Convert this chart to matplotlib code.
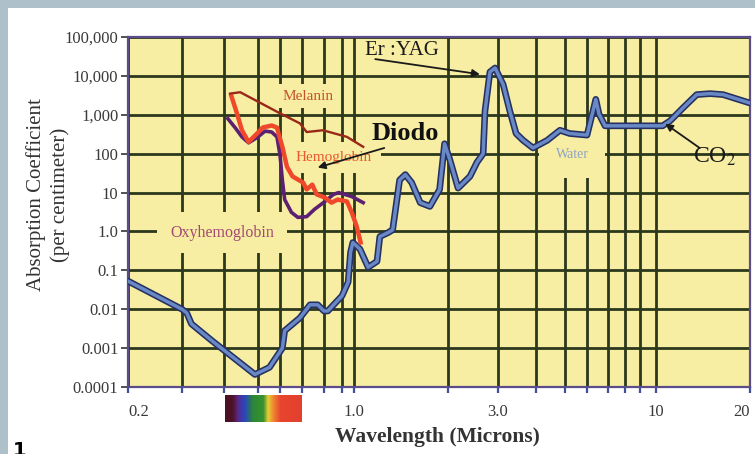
import numpy as np
import matplotlib
matplotlib.use("Agg")
import matplotlib.pyplot as plt
from matplotlib.colors import LinearSegmentedColormap
from matplotlib.patches import Rectangle
from matplotlib.ticker import NullLocator

plt.rcParams['font.family'] = ['Liberation Serif', 'DejaVu Serif']
plt.rcParams['mathtext.fontset'] = 'stix'

# absorption coefficients (per cm) against wavelength (microns)
water_um = [0.2, 0.3, 0.31, 0.32, 0.37, 0.49, 0.55, 0.61, 0.62, 0.69, 0.735, 0.77,
            0.8, 0.82, 0.9, 0.95, 0.97, 0.99, 1.045, 1.11, 1.185, 1.21, 1.285, 1.33,
            1.40, 1.46, 1.53, 1.63, 1.75, 1.88, 1.95, 2.03, 2.17, 2.39, 2.53, 2.66,
            2.7, 2.81, 2.93, 3.12, 3.28, 3.44, 3.63, 3.91, 4.36, 4.81, 5.2, 6.0,
            6.27, 6.4, 6.55, 6.85, 10.5, 11.1, 12.2, 13.5, 14.9, 16.4, 20.0]
water_abs = [0.053, 0.01, 0.008, 0.0042, 0.0015, 0.00021, 0.00032, 0.001, 0.0028,
             0.006, 0.013, 0.013, 0.009, 0.009, 0.022, 0.05, 0.29, 0.52, 0.35, 0.12,
             0.17, 0.74, 0.93, 1.1, 21, 29, 18, 5.5, 4.4, 12, 180, 70, 13, 26, 60,
             100, 1250, 12600, 16000, 6000, 1260, 330, 220, 140, 220, 400, 330, 300,
             1250, 2500, 1050, 520, 520, 700, 1500, 3300, 3500, 3300, 2000]

hb_um = [0.42, 0.436, 0.45, 0.47, 0.497, 0.52, 0.56, 0.585, 0.61, 0.63, 0.655,
         0.705, 0.72, 0.745, 0.765, 0.805, 0.84, 0.875, 0.94, 0.98, 1.02, 1.05]
hb_abs = [3000, 1050, 400, 200, 330, 470, 530, 470, 150, 46, 26, 18, 12, 16, 9,
          7.4, 5.5, 6.6, 5.9, 3.1, 1.35, 0.52]

hbo_um = [0.41, 0.43, 0.45, 0.47, 0.5, 0.53, 0.56, 0.585, 0.6, 0.61, 0.62, 0.65,
          0.68, 0.72, 0.755, 0.805, 0.85, 0.88, 0.98, 1.07]
hbo_abs = [800, 470, 270, 190, 270, 380, 360, 270, 93, 21, 6.6, 3.1, 2.3, 2.4, 3.7,
           5.9, 8.9, 10, 7.9, 5.5]

mel_um = [0.416, 0.445, 0.585, 0.69, 0.72, 0.795, 0.94, 1.07]
mel_abs = [3500, 3800, 1200, 600, 360, 400, 270, 150]

# axis ticks
grid_um = [0.2, 0.3, 0.4, 0.5, 0.6, 0.7, 0.8, 0.9, 1.0, 2.0, 3.0, 4.0, 5.0, 6.0,
           7.0, 8.0, 9.0, 10.0, 20.0]
x_labels = {0.2: '0.2', 1.0: '1.0', 3.0: '3.0', 10.0: '10', 20.0: '20'}
y_ticks = [1e-4, 1e-3, 1e-2, 1e-1, 1, 10, 100, 1e3, 1e4, 1e5]
y_labels = ['0.0001', '0.001', '0.01', '0.1', '1.0', '10', '100', '1,000',
            '10,000', '100,000']

# the printed wavelength axis is hand drawn: roughly logarithmic, but
# stretched between 0.3 and 1.0 micron. piecewise log mapping of the grid
grid_pos = [0, 54, 96, 130, 152, 174, 196, 214, 226, 320, 370, 408, 437, 459,
            480, 497, 512, 528, 622]
log_grid = np.log10(grid_um)


def to_axis(x):
    with np.errstate(divide='ignore', invalid='ignore'):
        return np.interp(np.log10(np.asarray(x, dtype=float)), log_grid, grid_pos)


def from_axis(p):
    return 10 ** np.interp(np.asarray(p, dtype=float), grid_pos, log_grid)


yellow = '#f7eea3'
grid_col = '#2c381b'

fig = plt.figure(figsize=(7.55, 4.54), dpi=100, facecolor='white')
fig.patches.append(Rectangle((0, 1 - 8 / 454), 1, 8 / 454, transform=fig.transFigure,
                             facecolor='#aec1ca', edgecolor='none', zorder=-1))
fig.patches.append(Rectangle((0, 0), 8 / 755, 1, transform=fig.transFigure,
                             facecolor='#aec1ca', edgecolor='none', zorder=-1))

ax = fig.add_axes([128 / 755, 67 / 454, 622 / 755, 350 / 454])
ax.set_facecolor(yellow)
ax.set_xscale('function', functions=(to_axis, from_axis))
ax.set_yscale('log')
ax.set_xlim(0.2, 20)
ax.set_ylim(1e-4, 1e5)

ax.set_xticks(grid_um)
ax.set_xticklabels([x_labels.get(v, '') for v in grid_um])
ax.xaxis.set_minor_locator(NullLocator())
ax.set_yticks(y_ticks)
ax.set_yticklabels(y_labels)
ax.yaxis.set_minor_locator(NullLocator())

ax.set_axisbelow(True)
ax.grid(True, which='major', color=grid_col, lw=2.0)
ax.tick_params(axis='x', direction='out', length=4, width=1.6, color='#3b4f9e',
               labelsize=12, labelcolor='#3a3a3a', pad=8)
ax.tick_params(axis='y', direction='out', length=5, width=1.2, color='#333333',
               labelsize=12, labelcolor='#3a3a3a', pad=2)
xt = ax.get_xticklabels()
xt[0].set_horizontalalignment('left')
xt[-1].set_horizontalalignment('right')
for sp in ax.spines.values():
    sp.set_color('#5b4d8c')
    sp.set_linewidth(1.6)

# curves
ax.plot(water_um, water_abs, color='#263061', lw=4.8, solid_joinstyle='round',
        solid_capstyle='round', zorder=4)
ax.plot(water_um, water_abs, color='#6888c6', lw=2.5, solid_joinstyle='round',
        solid_capstyle='round', zorder=5)
ax.plot(hbo_um, hbo_abs, color='#5b2072', lw=2.6, solid_joinstyle='round', zorder=4)
ax.plot(hb_um, hb_abs, color='#f0482a', lw=3.2, solid_joinstyle='round', zorder=5)
ax.plot(mel_um, mel_abs, color='#9a2818', lw=1.7, zorder=5)


def box(pad):
    return dict(boxstyle='square,pad=%s' % pad, fc=yellow, ec='none')


ax.text(0.725, 3000, 'Melanin', color='#c5532a', fontsize=11, ha='center',
        va='center', bbox=box(0.35), zorder=2)
ax.text(0.85, 79, 'Hemoglobin', color='#e9582f', fontsize=11, ha='center',
        va='center', bbox=box(0.6), zorder=2)
ax.text(0.395, 0.93, 'Oxyhemoglobin', color='#a34a72', fontsize=11.5, ha='center',
        va='center', bbox=box(0.8), zorder=2)
ax.text(5.3, 93, 'Water', color='#8fa3c6', fontsize=10, ha='center', va='center',
        bbox=box(1.2), zorder=2)
ax.text(1.46, 330, 'Diodo', color='#111111', fontsize=19, fontweight='bold',
        ha='center', va='center', bbox=box(0.1), zorder=2)
ax.text(1.085, 45000, 'Er :YAG', color='#1a1a1a', fontsize=15, ha='left',
        va='center', zorder=6)
ax.text(13.1, 84, 'CO$_2$', color='#1a1a1a', fontsize=17, ha='left', va='center',
        zorder=6)

arrow = dict(arrowstyle='-|>', color='#1a1a1a', lw=1.3, mutation_scale=11,
             shrinkA=0, shrinkB=0)
ax.annotate('', xy=(2.59, 11000), xytext=(1.17, 27000), arrowprops=arrow, zorder=6)
ax.annotate('', xy=(0.77, 44), xytext=(1.25, 140), arrowprops=arrow, zorder=6)
ax.annotate('', xy=(10.7, 590), xytext=(13.8, 140), arrowprops=arrow, zorder=6)

# visible spectrum strip under the axis
spectrum = LinearSegmentedColormap.from_list('visible', [
    (0.0, '#4a1022'), (0.1, '#4e1228'), (0.17, '#5a2a8a'), (0.25, '#2a44c2'),
    (0.37, '#2a8a34'), (0.5, '#3a9030'), (0.56, '#e6d035'), (0.63, '#f08532'),
    (0.72, '#e8452f'), (1.0, '#e2402e')])
sax = fig.add_axes([225 / 755, 32 / 454, 77 / 755, 27 / 454])
sax.imshow(np.linspace(0, 1, 256)[None, :], cmap=spectrum, aspect='auto')
sax.set_axis_off()

fig.text(48 / 755, 1 - 195 / 454, 'Absorption Coefficient\n(per centimeter)',
         rotation=90, ha='center', va='center', fontsize=15, color='#333333',
         linespacing=1.35)
fig.text(437 / 755, 1 - 437 / 454, 'Wavelength (Microns)', ha='center',
         va='center', fontsize=15.5, fontweight='bold', color='#333333')
fig.text(13 / 755, -2 / 454, '1', family='DejaVu Sans', fontweight='bold',
         fontsize=14, color='black', ha='left', va='baseline')

fig.savefig('out.png', dpi=100, facecolor='white')
